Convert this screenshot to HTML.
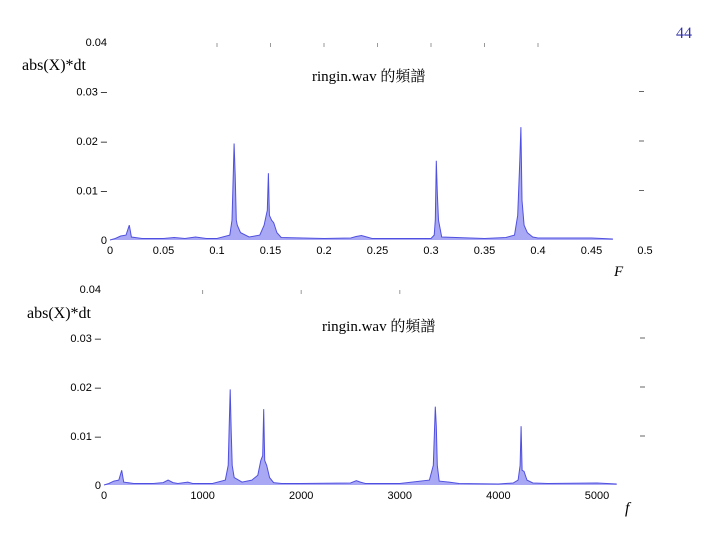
<!DOCTYPE html>
<html><head><meta charset="utf-8"><style>
html,body{margin:0;padding:0;background:#fff;}
#wrap{position:relative;width:720px;height:540px;overflow:hidden;background:#fff;}
svg{position:absolute;left:0;top:0;}
.t{font-family:"Liberation Sans",sans-serif;font-size:11px;fill:#000;}
.s{font-family:"Liberation Serif","Noto Serif CJK SC",serif;font-size:16px;fill:#000;}
</style></head><body>
<div id="wrap">
<svg id="svg" width="720" height="540">
<text x="676" y="38" class="s" style="fill:#3333aa">44</text>
<text x="22" y="70" class="s">abs(X)*dt</text>
<text x="312" y="81" class="s" style="font-size:15px">ringin.wav 的頻譜</text>
<text x="614" y="276" class="s" style="font-style:italic;font-size:15px">F</text>
<text x="27" y="318" class="s">abs(X)*dt</text>
<text x="322" y="331" class="s" style="font-size:15px">ringin.wav 的頻譜</text>
<text x="625" y="513" class="s" style="font-style:italic;font-size:16px">f</text>
</svg>
</div>
<script>
var topX=[0,0.005,0.01,0.015,0.018,0.02,0.03,0.05,0.06,0.07,0.08,0.09,0.1,0.112,0.114,0.115,0.116,0.117,0.118,0.119,0.122,0.13,0.14,0.144,0.146,0.147,0.148,0.149,0.151,0.153,0.156,0.16,0.2,0.225,0.23,0.235,0.24,0.245,0.3,0.303,0.304,0.305,0.306,0.307,0.31,0.35,0.37,0.378,0.381,0.383,0.384,0.385,0.387,0.39,0.395,0.4,0.45,0.47];
var topY=[0,0.0003,0.0008,0.001,0.003,0.0006,0.0003,0.0003,0.0005,0.0003,0.0006,0.0003,0.0003,0.001,0.004,0.012,0.0195,0.013,0.004,0.003,0.0015,0.0006,0.001,0.003,0.005,0.006,0.0135,0.005,0.004,0.0035,0.0015,0.0005,0.0003,0.0004,0.0007,0.0009,0.0006,0.0003,0.0003,0.001,0.004,0.016,0.009,0.004,0.0006,0.0003,0.0005,0.001,0.005,0.016,0.0228,0.008,0.003,0.0015,0.0006,0.0004,0.0004,0.0002];
var topTicks=[0,0.05,0.1,0.15,0.2,0.25,0.3,0.35,0.4,0.45,0.5];
var topTickLabels=["0","0.05","0.1","0.15","0.2","0.25","0.3","0.35","0.4","0.45","0.5"];
var topEdgeTicks=[0.1,0.15,0.2,0.25,0.3,0.35,0.4];
var botX=[0,50,100,150,180,200,300,500,600,650,700,750,850,900,1000,1100,1230,1260,1270,1280,1290,1300,1320,1400,1500,1560,1590,1610,1620,1630,1650,1680,1720,1800,2000,2500,2560,2600,2650,2700,3000,3300,3340,3360,3370,3380,3400,3500,3600,4000,4150,4200,4220,4230,4240,4260,4290,4350,4500,5000,5200];
var botY=[0,0.0003,0.0008,0.001,0.003,0.0006,0.0003,0.0003,0.0005,0.001,0.0005,0.0003,0.0006,0.0003,0.0003,0.0003,0.001,0.004,0.012,0.0195,0.011,0.004,0.0015,0.0006,0.001,0.002,0.005,0.006,0.0155,0.005,0.004,0.0015,0.0005,0.0003,0.0003,0.0004,0.0009,0.0006,0.0003,0.0003,0.0003,0.001,0.004,0.016,0.012,0.004,0.0008,0.0006,0.0003,0.0002,0.0004,0.001,0.004,0.012,0.003,0.0028,0.001,0.0004,0.0003,0.0004,0.0002];
var botTicks=[0,1000,2000,3000,4000,5000];
var botTickLabels=["0","1000","2000","3000","4000","5000"];
var botEdgeTicks=[1000,2000,3000];
var yTicks=[0,0.01,0.02,0.03,0.04];
var yTickLabels=["0","0.01","0.02","0.03","0.04"];

var svg=document.getElementById('svg');
var NS='http://www.w3.org/2000/svg';
function mk(tag,attrs){var e=document.createElementNS(NS,tag);for(var k in attrs)e.setAttribute(k,attrs[k]);svg.appendChild(e);return e;}

function chart(cfg,xs,ys,xt,xtl,et,prefix){
  function sx(v){return cfg.x0+(v-cfg.xmin)/(cfg.xmax-cfg.xmin)*cfg.w;}
  function sy(v){return cfg.y0-v/0.04*cfg.h;}
  var pts=[];for(var i=0;i<xs.length;i++)pts.push(sx(xs[i]).toFixed(1)+','+sy(ys[i]).toFixed(1));
  var area=mk('polygon',{points:sx(xs[0])+','+sy(0)+' '+pts.join(' ')+' '+sx(xs[xs.length-1])+','+sy(0),fill:'#a8a8f4',stroke:'none'});
  
  
  var line=mk('polyline',{points:pts.join(' '),fill:'none',stroke:'#5050e0','stroke-width':1});
  
  
  for(var j=0;j<xt.length;j++){
    var tl=mk('text',{x:sx(xt[j]),y:cfg.y0+14,'text-anchor':'middle','class':'t'});
    tl.textContent=xtl[j];
    
    
  }
  for(var m=0;m<et.length;m++){
    var tk=mk('line',{x1:sx(et[m]),x2:sx(et[m]),y1:cfg.y0-cfg.h+1,y2:cfg.y0-cfg.h+5,stroke:'#999','stroke-width':1});
    
    
  }
  for(var k=0;k<yTicks.length;k++){
    var yl=mk('text',{x:cfg.x0-3,y:sy(yTicks[k])+4,'text-anchor':'end','class':'t'});
    yl.textContent=yTickLabels[k]+((k>0&&k<4)?' \u2013':'');
    
    
    if(k>0&&k<4){
      var rt=mk('line',{x1:cfg.rx,x2:cfg.rx+5,y1:sy(yTicks[k]),y2:sy(yTicks[k]),stroke:'#666','stroke-width':1});
      
      
    }
  }
}
chart({x0:110,w:535,xmin:0,xmax:0.5,y0:240,h:198,rx:639},topX,topY,topTicks,topTickLabels,topEdgeTicks,'top');
chart({x0:104,w:493,xmin:0,xmax:5000,y0:485,h:196,rx:640},botX,botY,botTicks,botTickLabels,botEdgeTicks,'bottom');
</script>
</body></html>
